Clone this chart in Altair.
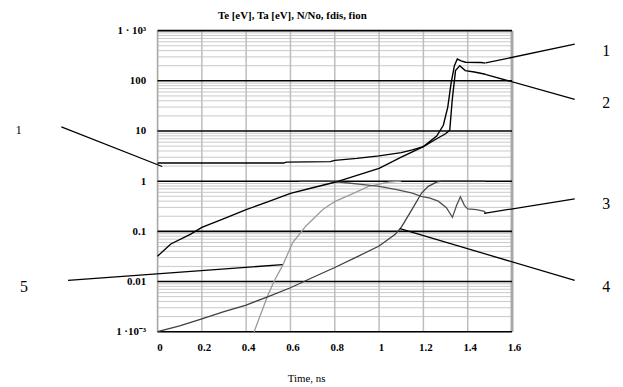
import altair as alt
import pandas as pd

FONT = "Liberation Serif"

# ---- data ----
te_t = [0, 0.57, 0.58, 0.78, 0.80, 0.9, 1.0, 1.1, 1.15, 1.2, 1.26, 1.29, 1.31, 1.325, 1.34, 1.353, 1.37, 1.39, 1.46, 1.48]
te_v = [2.3, 2.3, 2.4, 2.45, 2.6, 2.85, 3.2, 3.7, 4.2, 4.9, 7.9, 13, 30, 90, 200, 272, 250, 235, 232, 225]

ta_t = [0, 0.06, 0.15, 0.2, 0.3, 0.4, 0.5, 0.6, 0.7, 0.8, 0.9, 1.0, 1.1, 1.2, 1.26, 1.3, 1.319, 1.33, 1.345, 1.364, 1.389, 1.43, 1.48]
ta_v = [0.032, 0.056, 0.088, 0.12, 0.18, 0.27, 0.39, 0.57, 0.74, 0.95, 1.3, 1.8, 3.0, 4.9, 7.0, 8.8, 10.4, 41, 160, 199, 160, 150, 135]

fdis_t = [0.64, 0.77, 0.85, 0.92, 1.0, 1.08, 1.15, 1.19, 1.23, 1.267, 1.304, 1.331, 1.35, 1.367, 1.385, 1.40, 1.44, 1.475, 1.483]
fdis_v = [1.0, 1.0, 0.93, 0.86, 0.79, 0.68, 0.58, 0.50, 0.46, 0.40, 0.295, 0.19, 0.33, 0.49, 0.33, 0.28, 0.27, 0.25, 0.225]

nn_t = [0, 0.1, 0.2, 0.3, 0.4, 0.5, 0.6, 0.7, 0.8, 0.9, 1.0, 1.073, 1.102, 1.148, 1.192, 1.222, 1.259, 1.28, 1.48]
nn_v = [0.001, 0.0013, 0.0018, 0.0025, 0.0034, 0.005, 0.0075, 0.012, 0.019, 0.031, 0.051, 0.087, 0.124, 0.27, 0.58, 0.79, 0.96, 1.0, 1.0]

fion_t = [0.436, 0.498, 0.53, 0.565, 0.61, 0.67, 0.745, 0.774, 0.804, 0.864, 0.953, 1.043, 1.1]
fion_v = [0.001, 0.0053, 0.011, 0.021, 0.06, 0.128, 0.27, 0.33, 0.40, 0.52, 0.79, 0.96, 1.0]

# annotation leader lines (two ends each, in data units)
lead_id = ["1L", "1L", "5L", "5L", "1R", "1R", "2R", "2R", "3R", "3R", "4R", "4R"]
lead_t = [-0.434, 0.021, -0.404, 0.564, 1.481, 1.883, 1.479, 1.883, 1.474, 1.883, 1.094, 1.883]
lead_v = [12.1, 1.96, 0.0105, 0.0217, 227, 538, 135, 42.7, 0.228, 0.445, 0.1135, 0.0105]

lab_text = ["1", "5", "1", "2", "3", "4"]
lab_t = [-0.626, -0.603, 2.025, 2.025, 2.025, 2.025]
lab_v = [10.4, 0.00785, 397, 35.6, 0.344, 0.00785]
lab_size = [12, 16, 16, 16, 16, 16]

x_ticks = [0, 0.2, 0.4, 0.6, 0.8, 1.0, 1.2, 1.4, 1.6]
y_major = [0.001, 0.01, 0.1, 1, 10, 100, 1000]
y_minor = [k * 10.0 ** d for d in range(-3, 3) for k in range(2, 10)]

X = alt.Scale(domain=[0, 1.6], nice=False, zero=False)
Y = alt.Scale(type="log", domain=[0.001, 1000], nice=False)

label_expr = ("datum.value == 1000 ? '1 · 10³' : datum.value == 0.001 ? '1 ·10⁻³' : "
              "datum.value == 100 ? '100' : datum.value == 10 ? '10' : datum.value == 1 ? '1' : "
              "datum.value == 0.1 ? '0.1' : '0.01'")

YAX = alt.Axis(values=y_major, labelExpr=label_expr, grid=False, domain=False,
               ticks=False, labelPadding=12, labelFont=FONT, labelFontSize=11, labelFlush=False,
               labelFontWeight="bold", labelColor="black", title=None)
XAX = alt.Axis(values=x_ticks, format="~g", grid=False, domain=False, ticks=False,
               labelPadding=10, labelFont=FONT, labelFontSize=11, labelFlush=False,
               labelFontWeight="bold", labelColor="black", labelOffset=2,
               title="Time, ns", titleFont=FONT, titleFontSize=11,
               titleFontWeight="normal", titleColor="black",
               titleX=150, titleY=47, titleBaseline="middle")


def xq(f="t"):
    return alt.X(f + ":Q", scale=X, axis=XAX)


def yq(f="v"):
    return alt.Y(f + ":Q", scale=Y, axis=YAX)


# ---- grid ----
minor = alt.Chart(pd.DataFrame({"v": y_minor})).mark_rule(color="#c8c8c8", strokeWidth=1).encode(y=yq())

vgrid = alt.Chart(pd.DataFrame({"t": x_ticks[1:-1]})).mark_rule(color="#bdbdbd", strokeWidth=1.5).encode(x=xq())

left_b = alt.Chart(pd.DataFrame({"t": [0]})).mark_rule(color="#a8a8a8", strokeWidth=1.5).encode(x=xq())
right_b = alt.Chart(pd.DataFrame({"t": [1.6]})).mark_rule(color="#a8a8a8", strokeWidth=3).encode(x=xq())

major = alt.Chart(pd.DataFrame({"v": y_major})).mark_rule(color="black", strokeWidth=1.6).encode(y=yq())


def curve(ts, vs, color, width):
    df = pd.DataFrame({"t": ts, "v": vs})
    return alt.Chart(df).mark_line(color=color, strokeWidth=width).encode(x=xq(), y=yq())


c_fdis = curve(fdis_t, fdis_v, "#505050", 1.3)
c_fion = curve(fion_t, fion_v, "#9a9a9a", 1.3)
c_nn = curve(nn_t, nn_v, "#404040", 1.3)
c_te = curve(te_t, te_v, "black", 1.4)
c_ta = curve(ta_t, ta_v, "black", 1.4)

leads = alt.Chart(pd.DataFrame({"id": lead_id, "t": lead_t, "v": lead_v})).mark_line(
    color="black", strokeWidth=1.3).encode(x=xq(), y=yq(), detail="id:N")

labels = alt.Chart(pd.DataFrame({"txt": lab_text, "t": lab_t, "v": lab_v, "fs": lab_size})).mark_text(
    font=FONT, color="black", align="center", baseline="middle").encode(
    x=xq(), y=yq(), text="txt:N", size=alt.Size("fs:Q", scale=None, legend=None))

chart = alt.layer(minor, vgrid, left_b, right_b, major, c_fion, c_fdis, c_nn, c_te, c_ta, leads, labels).properties(
    width=358, height=304,
    title=alt.TitleParams("Te [eV], Ta [eV], N/No, fdis, fion", anchor="start", frame="group", dx=61, offset=4,
                          font=FONT, fontSize=11, fontWeight="bold", color="black"),
    autosize=alt.AutoSizeParams(type="none"),
    padding={"left": 151, "top": 21, "right": 104, "bottom": 56},
).configure_view(stroke=None).configure(background="white")

chart.save("out.html", embed_options={"renderer": "svg", "actions": False})
